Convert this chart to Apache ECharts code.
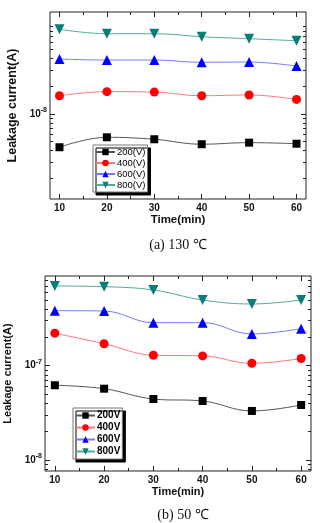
<!DOCTYPE html>
<html>
<head>
<meta charset="utf-8">
<script src="https://cdn.jsdelivr.net/npm/echarts@6/dist/echarts.min.js"></script>
<style>
html,body{margin:0;padding:0;background:#fff;}
#main{width:320px;height:523px;}
</style>
</head>
<body>
<div id="main"></div>
<script>
var times = [10, 20, 30, 40, 50, 60];
var timeTicks = [10, 20, 30, 40, 50, 60];
var timeMinorTicks = [15, 25, 35, 45, 55];

// (a) 130℃
var hotNames = ['200(V)', '400(V)', '600(V)', '800(V)'];
var hot200 = [4.35e-9, 5.58e-9, 5.31e-9, 4.69e-9, 4.88e-9, 4.75e-9];
var hot400 = [1.58e-8, 1.75e-8, 1.73e-8, 1.58e-8, 1.61e-8, 1.44e-8];
var hot600 = [3.96e-8, 3.86e-8, 3.86e-8, 3.65e-8, 3.67e-8, 3.32e-8];
var hot800 = [8.33e-8, 7.46e-8, 7.46e-8, 6.92e-8, 6.58e-8, 6.26e-8];
var hotRange = [1.19e-9, 1.285e-7];
var hotDecades = [-8];

// (b) 50℃
var coolNames = ['200V', '400V', '600V', '800V'];
var cool200 = [6.2e-8, 5.7e-8, 4.43e-8, 4.22e-8, 3.31e-8, 3.83e-8];
var cool400 = [2.21e-7, 1.71e-7, 1.29e-7, 1.27e-7, 1.06e-7, 1.19e-7];
var cool600 = [3.83e-7, 3.80e-7, 2.86e-7, 2.86e-7, 2.17e-7, 2.47e-7];
var cool800 = [7.0e-7, 6.88e-7, 6.35e-7, 4.97e-7, 4.51e-7, 4.97e-7];
var coolRange = [7.64e-9, 8.93e-7];
var coolDecades = [-8, -7];

var timeRange = [8, 62];

var FONT = 'Liberation Sans';
var markerColors = ['#000000', '#ff0000', '#0000ff', '#0b7d78'];
var lineColors = ['#555555', '#ff7878', '#7878ff', '#52aa9c'];
var symbols = ['rect', 'circle', 'triangle', 'path://M0,0L20,0L10,17Z'];
var symbolSizes = [8, 9, 10, 10];

window.onload = function(){
    var myChart = echarts.init(document.getElementById('main'));
    var option = {
        animation: false,
        textStyle: {fontFamily: FONT},
        grid: [], xAxis: [], yAxis: [], series: [], legend: [],
        graphic: [
            {type: 'text', x: 178, y: 245, style: {text: '(a) 130 ℃', font: '14px "Liberation Serif"', fill: '#111', align: 'center', verticalAlign: 'middle'}},
            {type: 'text', x: 183, y: 515, style: {text: '(b) 50 ℃', font: '14px "Liberation Serif"', fill: '#111', align: 'center', verticalAlign: 'middle'}}
        ]
    };

    // minor ticks of a log axis, in log10 units
    function minorLogTicks(range){
        var out = [];
        var lo = Math.log10(range[0]), hi = Math.log10(range[1]);
        for (var n = Math.floor(lo); n <= Math.ceil(hi); n++) {
            for (var m = 2; m <= 9; m++) {
                var v = n + Math.log10(m);
                if (v > lo && v < hi) out.push(v);
            }
        }
        return out;
    }

    function tickAxis(kind, gi, pos, lo, hi, ticks, len, extra){
        var ax = {
            type: 'value', gridIndex: gi, position: pos, min: lo, max: hi,
            axisLine: {show: false},
            splitLine: {show: false},
            axisTick: {show: true, inside: true, length: len, customValues: ticks, lineStyle: {color: '#222', width: 1}},
            axisLabel: {show: false}
        };
        for (var key in extra) ax[key] = extra[key];
        option[kind].push(ax);
    }

    function panel(p){
        var gi = option.grid.length;
        option.grid.push({
            left: p.box[0], top: p.box[1], width: p.box[2], height: p.box[3],
            show: true, borderColor: '#222', borderWidth: 1, backgroundColor: 'transparent',
            containLabel: false, outerBoundsMode: 'none'
        });
        var ylo = Math.log10(p.range[0]), yhi = Math.log10(p.range[1]);
        var minor = minorLogTicks(p.range);

        // axes carrying the data
        var xi = option.xAxis.length;
        option.xAxis.push({type: 'value', gridIndex: gi, min: timeRange[0], max: timeRange[1], show: false});
        var yi = option.yAxis.length;
        option.yAxis.push({type: 'log', logBase: 10, gridIndex: gi, min: p.range[0], max: p.range[1], show: false});

        // ticks, labels, names
        tickAxis('xAxis', gi, 'bottom', timeRange[0], timeRange[1], timeTicks, 5, {
            axisLabel: {show: true, customValues: timeTicks, margin: 4, fontSize: 10, fontWeight: 'bold', fontFamily: FONT, color: '#111'},
            name: 'Time(min)', nameLocation: 'middle', nameGap: p.xNameGap,
            nameTextStyle: {fontSize: p.xNameSize, fontWeight: 'bold', fontFamily: FONT, color: '#111'}
        });
        tickAxis('xAxis', gi, 'bottom', timeRange[0], timeRange[1], timeMinorTicks, 3, {});
        tickAxis('xAxis', gi, 'top', timeRange[0], timeRange[1], timeTicks, 5, {});
        tickAxis('xAxis', gi, 'top', timeRange[0], timeRange[1], timeMinorTicks, 3, {});

        tickAxis('yAxis', gi, 'left', ylo, yhi, p.decades, 5, {
            axisLabel: {
                show: true, customValues: p.decades, margin: 3, color: '#111',
                formatter: function(v){ return '{b|10}{s|' + Math.round(v) + '}'; },
                rich: {
                    b: {fontSize: 10, fontWeight: 'bold', fontFamily: FONT, color: '#111'},
                    s: {fontSize: 7, fontWeight: 'bold', fontFamily: FONT, color: '#111', padding: [0, 0, 8, 0]}
                }
            },
            name: 'Leakage current(A)', nameLocation: 'middle', nameGap: p.yNameGap, nameRotate: 90,
            nameTextStyle: {fontSize: p.yNameSize, fontWeight: 'bold', fontFamily: FONT, color: '#111'}
        });
        tickAxis('yAxis', gi, 'left', ylo, yhi, minor, 3, {});
        tickAxis('yAxis', gi, 'right', ylo, yhi, p.decades, 5, {});
        tickAxis('yAxis', gi, 'right', ylo, yhi, minor, 3, {});

        p.values.forEach(function(vals, s){
            option.series.push({
                name: p.names[s], type: 'line', xAxisIndex: xi, yAxisIndex: yi,
                data: times.map(function(t, i){ return [t, vals[i]]; }),
                smooth: 0.4, symbol: symbols[s], symbolSize: symbolSizes[s],
                itemStyle: {color: markerColors[s]},
                lineStyle: {color: lineColors[s], width: 1},
                z: 3
            });
        });

        option.legend.push({
            data: p.names, orient: 'vertical', left: p.legend[0], top: p.legend[1],
            itemWidth: 19, itemHeight: 8, itemGap: 1, padding: [2, 2, 2, 2],
            backgroundColor: '#fff', borderColor: '#777', borderWidth: 1,
            shadowColor: '#000', shadowBlur: 0, shadowOffsetX: 3, shadowOffsetY: 3,
            textStyle: {fontSize: p.legendFont, fontWeight: p.legendWeight, fontFamily: FONT, color: '#000', lineHeight: p.legendLine, padding: [0, 0, 0, -3]}
        });
    }

    panel({
        box: [50, 12, 256, 187], range: hotRange, decades: hotDecades,
        names: hotNames, values: [hot200, hot400, hot600, hot800],
        xNameGap: 14, xNameSize: 11.5, yNameGap: 16, yNameSize: 12.5,
        legend: [93, 145], legendFont: 9.5, legendWeight: 'normal', legendLine: 10
    });
    panel({
        box: [45, 276, 266, 195], range: coolRange, decades: coolDecades,
        names: coolNames, values: [cool200, cool400, cool600, cool800],
        xNameGap: 15, xNameSize: 11, yNameGap: 16, yNameSize: 11,
        legend: [73, 408], legendFont: 10, legendWeight: 'bold', legendLine: 11
    });

    myChart.setOption(option);
};
</script>
</body>
</html>
